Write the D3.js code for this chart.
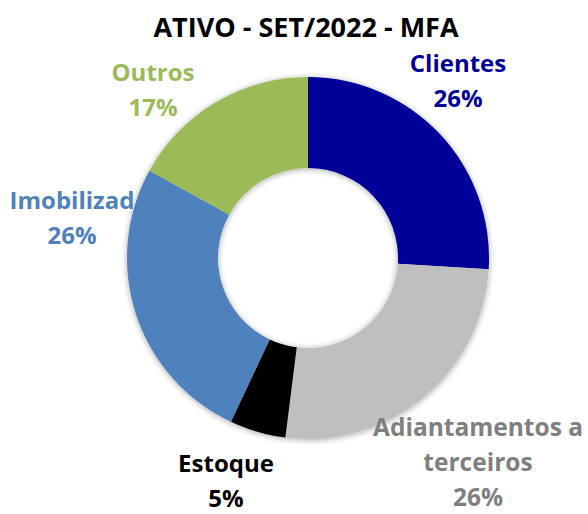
<!DOCTYPE html>
<html>
<head>
<meta charset="utf-8">
<script src="https://cdn.jsdelivr.net/npm/d3@7"></script>
<style>
  html, body { margin: 0; padding: 0; background: #fff; }
  svg { display: block; }
  text { font-family: "Open Sans", Lato, sans-serif; font-weight: bold; }
</style>
</head>
<body>
<svg id="chart" width="588" height="514"></svg>
<script>
// ---- data ----
const title = "ATIVO - SET/2022 - MFA";
const categories = ["Clientes", "Adiantamentos a terceiros", "Estoque", "Imobilizado", "Outros"];
const values = [26, 26, 5, 26, 17];
const labelLines = [["Clientes"], ["Adiantamentos a", "terceiros"], ["Estoque"], ["Imobilizad"], ["Outros"]];

// ---- styles / layout ----
const sliceColors = ["#000099", "#BFBFBF", "#000000", "#4F81BD", "#9BBB59"];
const labelColors = ["#000099", "#7F7F7F", "#000000", "#4F81BD", "#9BBB59"];
const cx = 308, cy = 258, outerR = 181, innerR = 90;
const labelAnchor = [[458, 72], [478, 436], [226, 472], [72, 209], [153, 81]];
const labelSize = [24, 24.5, 24, 24, 24];
const lineGap = 35;

const svg = d3.select("#chart");
const defs = svg.append("defs");
const f = defs.append("filter").attr("id", "sh").attr("x", "-20%").attr("y", "-20%").attr("width", "140%").attr("height", "140%");
f.append("feGaussianBlur").attr("in", "SourceAlpha").attr("stdDeviation", 3).attr("result", "b");
f.append("feOffset").attr("in", "b").attr("dx", 0).attr("dy", 1).attr("result", "o");
f.append("feComponentTransfer").attr("in", "o").attr("result", "c")
  .append("feFuncA").attr("type", "linear").attr("slope", 0.35);
const m = f.append("feMerge");
m.append("feMergeNode").attr("in", "c");
m.append("feMergeNode").attr("in", "SourceGraphic");

svg.append("text")
  .attr("x", 306).attr("y", 37)
  .attr("text-anchor", "middle")
  .attr("font-size", 27)
  .attr("fill", "#000")
  .text(title);

const pie = d3.pie().value(d => d).sort(null);
const arcs = pie(values);
const arc = d3.arc().innerRadius(innerR).outerRadius(outerR);

const g = svg.append("g").attr("transform", `translate(${cx},${cy})`).attr("filter", "url(#sh)");
g.selectAll("path").data(arcs).enter().append("path")
  .attr("d", arc)
  .attr("fill", (d, i) => sliceColors[i]);

const lg = svg.append("g");
arcs.forEach((a, i) => {
  const lines = labelLines[i].concat([Math.round(values[i]) + "%"]);
  const t = lg.append("text")
    .attr("text-anchor", "middle")
    .attr("font-size", labelSize[i])
    .attr("fill", labelColors[i]);
  lines.forEach((ln, j) => {
    t.append("tspan").attr("x", labelAnchor[i][0]).attr("y", labelAnchor[i][1] + j * lineGap).text(ln);
  });
});
</script>
</body>
</html>
